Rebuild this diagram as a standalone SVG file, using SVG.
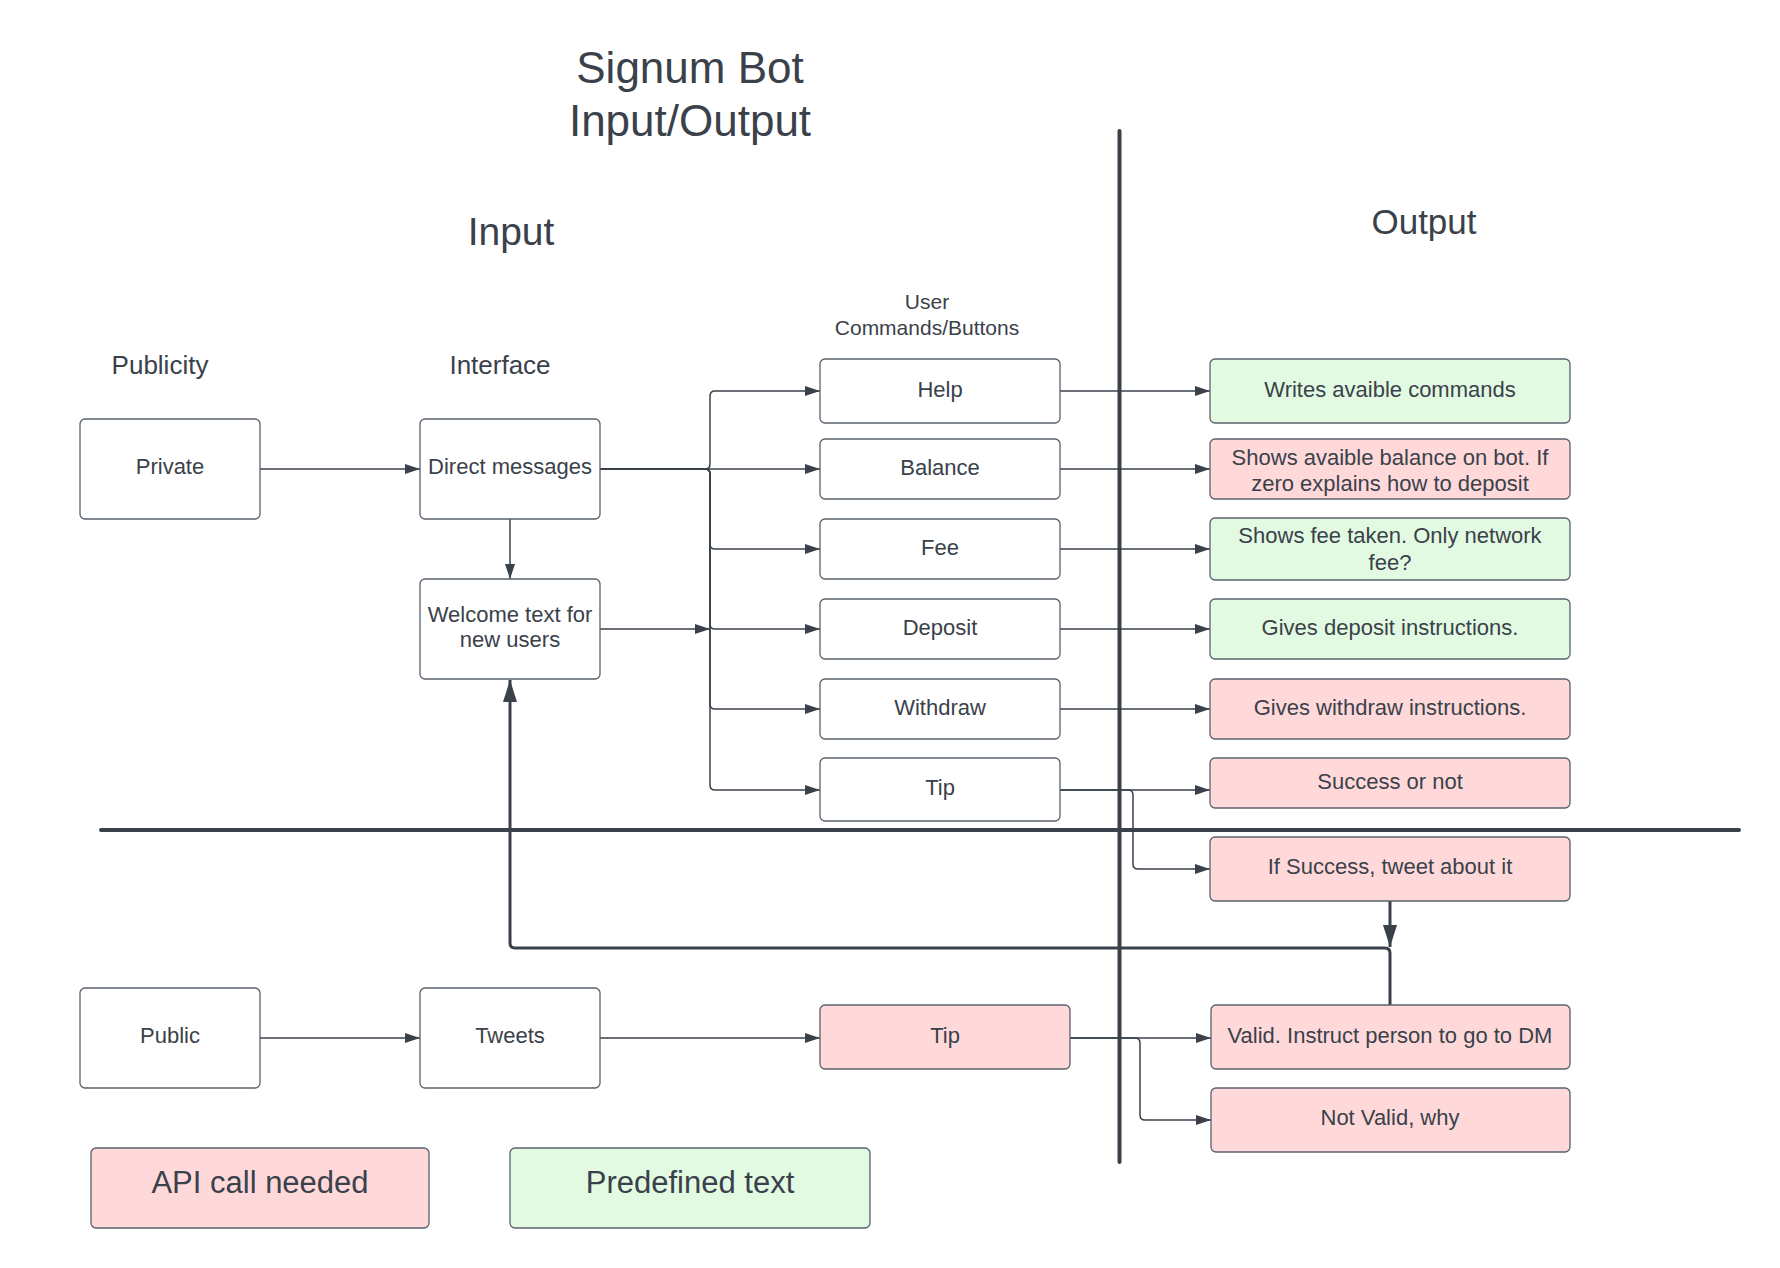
<svg xmlns="http://www.w3.org/2000/svg" width="1780" height="1268" viewBox="0 0 1780 1268">
<style>
text{font-family:"Liberation Sans",Arial,sans-serif;fill:#3a414a;text-anchor:middle}
.n{font-size:22px}
.box{fill:#ffffff;stroke:#5a616b;stroke-width:1.3}
.pink{fill:#ffd9da;stroke:#5a616b;stroke-width:1.3}
.green{fill:#e2fae2;stroke:#5a616b;stroke-width:1.3}
.c{fill:none;stroke:#3a414a;stroke-width:1.5;marker-end:url(#arr)}
.cl{fill:none;stroke:#3a414a;stroke-width:1.5}
.thick{fill:none;stroke:#3a414a;stroke-width:3;marker-end:url(#big)}
.div{stroke:#3a414a;stroke-width:4;stroke-linecap:round}
</style>
<defs>
<marker id="arr" viewBox="0 0 15 10" refX="15" refY="5" markerWidth="15" markerHeight="10" markerUnits="userSpaceOnUse" orient="auto"><path d="M0,0 L15,5 L0,10 z" fill="#3a414a"/></marker>
<marker id="big" viewBox="0 0 22 14" refX="22" refY="7" markerWidth="22" markerHeight="14" markerUnits="userSpaceOnUse" orient="auto"><path d="M0,0 L22,7 L0,14 z" fill="#3a414a"/></marker>
</defs>
<rect width="1780" height="1268" fill="#ffffff"/>

<g id="labels">
<text x="690" y="83" font-size="44">Signum Bot</text>
<text x="690" y="136" font-size="44">Input/Output</text>
<text x="511" y="245" font-size="39">Input</text>
<text x="1424" y="234" font-size="35">Output</text>
<text x="160" y="374" font-size="26">Publicity</text>
<text x="500" y="374" font-size="26">Interface</text>
<text x="927" y="309" font-size="21">User</text>
<text x="927" y="335" font-size="21">Commands/Buttons</text>
</g>

<g id="dividers">
<line class="div" x1="1119.5" y1="131" x2="1119.5" y2="1162"/>
<line class="div" x1="101" y1="830" x2="1739" y2="830"/>
</g>

<g id="connectors">
<path class="c" d="M260,469 H420"/>
<path class="c" d="M510,519 V579"/>
<path class="c" d="M600,469 H705 Q710,469 710,464 V396 Q710,391 715,391 H820"/>
<path class="c" d="M600,469 H820"/>
<path class="c" d="M600,469 H705 Q710,469 710,474 V544 Q710,549 715,549 H820"/>
<path class="c" d="M600,469 H705 Q710,469 710,474 V624 Q710,629 715,629 H820"/>
<path class="c" d="M600,469 H705 Q710,469 710,474 V704 Q710,709 715,709 H820"/>
<path class="c" d="M600,469 H705 Q710,469 710,474 V785 Q710,790 715,790 H820"/>
<path class="c" d="M600,629 H710"/>
<path class="c" d="M1060,391 H1210"/>
<path class="c" d="M1060,469 H1210"/>
<path class="c" d="M1060,549 H1210"/>
<path class="c" d="M1060,629 H1210"/>
<path class="c" d="M1060,709 H1210"/>
<path class="c" d="M1060,790 H1210"/>
<path class="c" d="M1060,790 H1128 Q1133,790 1133,795 V864 Q1133,869 1138,869 H1210"/>
<path class="thick" d="M1390,901 V947"/>
<path class="thick" d="M1390,1005 V953 Q1390,948 1385,948 H515 Q510,948 510,943 V680"/>
<path class="c" d="M260,1038 H420"/>
<path class="c" d="M600,1038 H820"/>
<path class="c" d="M1070,1038 H1211"/>
<path class="c" d="M1070,1038 H1135 Q1140,1038 1140,1043 V1115 Q1140,1120 1145,1120 H1211"/>
</g>

<g id="private"><rect class="box" x="80" y="419" width="180" height="100" rx="5"/><text class="n" x="170" y="474">Private</text></g>
<g id="direct-messages"><rect class="box" x="420" y="419" width="180" height="100" rx="5"/><text class="n" x="510" y="474">Direct messages</text></g>
<g id="welcome"><rect class="box" x="420" y="579" width="180" height="100" rx="5"/><text class="n" x="510" y="622">Welcome text for</text><text class="n" x="510" y="647">new users</text></g>

<g id="help"><rect class="box" x="820" y="359" width="240" height="64" rx="5"/><text class="n" x="940" y="397">Help</text></g>
<g id="balance"><rect class="box" x="820" y="439" width="240" height="60" rx="5"/><text class="n" x="940" y="475">Balance</text></g>
<g id="fee"><rect class="box" x="820" y="519" width="240" height="60" rx="5"/><text class="n" x="940" y="555">Fee</text></g>
<g id="deposit"><rect class="box" x="820" y="599" width="240" height="60" rx="5"/><text class="n" x="940" y="635">Deposit</text></g>
<g id="withdraw"><rect class="box" x="820" y="679" width="240" height="60" rx="5"/><text class="n" x="940" y="715">Withdraw</text></g>
<g id="tip-dm"><rect class="box" x="820" y="758" width="240" height="63" rx="5"/><text class="n" x="940" y="795">Tip</text></g>

<g id="out-help"><rect class="green" x="1210" y="359" width="360" height="64" rx="5"/><text class="n" x="1390" y="397">Writes avaible commands</text></g>
<g id="out-balance"><rect class="pink" x="1210" y="439" width="360" height="60" rx="5"/><text class="n" x="1390" y="465">Shows avaible balance on bot. If</text><text class="n" x="1390" y="491">zero explains how to deposit</text></g>
<g id="out-fee"><rect class="green" x="1210" y="518" width="360" height="62" rx="5"/><text class="n" x="1390" y="543">Shows fee taken. Only network</text><text class="n" x="1390" y="570">fee?</text></g>
<g id="out-deposit"><rect class="green" x="1210" y="599" width="360" height="60" rx="5"/><text class="n" x="1390" y="635">Gives deposit instructions.</text></g>
<g id="out-withdraw"><rect class="pink" x="1210" y="679" width="360" height="60" rx="5"/><text class="n" x="1390" y="715">Gives withdraw instructions.</text></g>
<g id="out-success"><rect class="pink" x="1210" y="758" width="360" height="50" rx="5"/><text class="n" x="1390" y="789">Success or not</text></g>
<g id="out-tweet"><rect class="pink" x="1210" y="837" width="360" height="64" rx="5"/><text class="n" x="1390" y="874">If Success, tweet about it</text></g>

<g id="public"><rect class="box" x="80" y="988" width="180" height="100" rx="5"/><text class="n" x="170" y="1043">Public</text></g>
<g id="tweets"><rect class="box" x="420" y="988" width="180" height="100" rx="5"/><text class="n" x="510" y="1043">Tweets</text></g>
<g id="tip-public"><rect class="pink" x="820" y="1005" width="250" height="64" rx="5"/><text class="n" x="945" y="1043">Tip</text></g>
<g id="out-valid"><rect class="pink" x="1211" y="1005" width="359" height="64" rx="5"/><text class="n" x="1390" y="1043">Valid. Instruct person to go to DM</text></g>
<g id="out-notvalid"><rect class="pink" x="1211" y="1088" width="359" height="64" rx="5"/><text class="n" x="1390" y="1125">Not Valid, why</text></g>

<g id="legend-api"><rect class="pink" x="91" y="1148" width="338" height="80" rx="5"/><text x="260" y="1193" font-size="31">API call needed</text></g>
<g id="legend-predefined"><rect class="green" x="510" y="1148" width="360" height="80" rx="5"/><text x="690" y="1193" font-size="31">Predefined text</text></g>
</svg>
